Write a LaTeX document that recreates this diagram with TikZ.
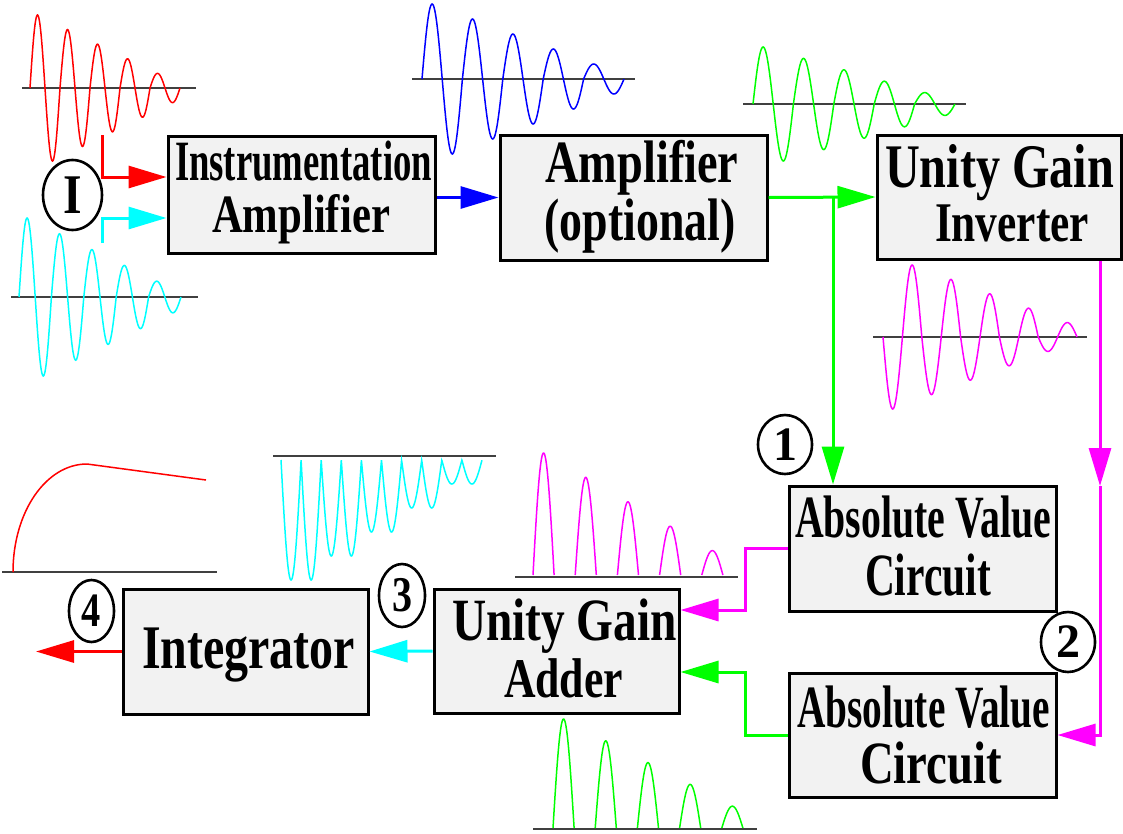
\documentclass[tikz,border=0pt]{standalone}
\usepackage{fontspec}
\setmainfont{Liberation Serif}
\usepackage{graphicx}
\usetikzlibrary{arrows.meta,shapes.geometric}
\definecolor{boxgray}{HTML}{F2F2F2}
\definecolor{axisgray}{HTML}{404040}
\definecolor{cred}{rgb}{1,0,0}
\definecolor{ccyan}{rgb}{0,1,1}
\definecolor{cblue}{rgb}{0,0,1}
\definecolor{cgreen}{rgb}{0,1,0}
\definecolor{cmag}{rgb}{1,0,1}
\newsavebox\lblbox
\newcommand\fitw[2]{\sbox\lblbox{#2}\pgfmathsetmacro\lblsx{#1/\the\wd\lblbox}\scalebox{\lblsx}[1]{\usebox\lblbox}}
\newcommand\fsz[1]{\fontsize{#1}{#1}\selectfont}
\begin{document}
\begin{tikzpicture}[x=1pt,y=-1pt,
  blk/.style={draw=black, line width=3pt, fill=boxgray, inner sep=0pt},
  lbl/.style={anchor=base, inner sep=0pt, font=\bfseries},
  circ/.style={draw=black, ellipse, line width=2.6pt, inner sep=0pt, font=\bfseries},
  conn/.style={line width=3pt, -{Triangle[length=38pt,width=22pt]}},
  wave/.style={line width=1.5pt},
  axisline/.style={draw=axisgray, line width=1.5pt}]
\useasboundingbox (0,0) rectangle (1123,833);

% ---------- waveforms ----------
% red input
\draw[axisline] (22,88) -- (196,88);
\draw[wave,cred] plot[domain=0:5,samples=301] ({30+30*\x},{88-73*(5-floor(\x))/5*sin(360*\x)});
% cyan input
\draw[axisline] (11,297) -- (198,297);
\draw[wave,ccyan] plot[domain=0:5,samples=301] ({19+32.4*\x},{297-79*(5-floor(\x))/5*sin(360*\x)});
% blue
\draw[axisline] (412,79) -- (635,79);
\draw[wave,cblue] plot[domain=0:5,samples=301] ({422+40.4*\x},{79-75*(5-floor(\x))/5*sin(360*\x)});
% green
\draw[axisline] (743,104) -- (966,104);
\draw[wave,cgreen] plot[domain=0:5,samples=301] ({753+40.4*\x},{104-57*(5-floor(\x))/5*sin(360*\x)});
% magenta (inverted)
\draw[axisline] (873,337) -- (1087,337);
\draw[wave,cmag] plot[domain=0:5,samples=301] ({883+38.8*\x},{337+72*(5-floor(\x))/5*sin(360*\x)});
% cyan rectified sum
\draw[axisline] (273,456) -- (496,456);
\draw[wave,ccyan] plot[domain=0:5,samples=601] ({281+40.2*\x},{460+120*(5-floor(\x))/5*abs(sin(360*\x))});
% magenta half-wave
\draw[axisline] (515,577) -- (738,577);
\foreach \k in {0,...,4}
  \draw[wave,cmag] plot[domain=0:180,samples=40] ({533+42.2*\k+21.1*\x/180},{575-122*(5-\k)/5*sin(\x)});
% green half-wave
\draw[axisline] (533,829) -- (757,829);
\foreach \k in {0,...,4}
  \draw[wave,cgreen] plot[domain=0:180,samples=40] ({553+42.2*\k+21.1*\x/180},{828-109*(5-\k)/5*sin(\x)});
% red integrator output
\draw[axisline] (2,572) -- (217,572);
\draw[wave,cred] (13,572) .. controls (13,512) and (46,464) .. (87,464) -- (206,480);

% ---------- boxes ----------
\node[blk, minimum width=267pt, minimum height=117pt] (ia)   at (301.5,194.5) {};
\node[blk, minimum width=267pt, minimum height=125pt] (amp)  at (633.5,197.5) {};
\node[blk, minimum width=244pt, minimum height=124pt] (ugi)  at (999,197) {};
\node[blk, minimum width=267pt, minimum height=125pt] (avc1) at (922.5,548.5) {};
\node[blk, minimum width=267pt, minimum height=124pt] (avc2) at (922.5,735) {};
\node[blk, minimum width=245pt, minimum height=124pt] (uga)  at (556.5,651) {};
\node[blk, minimum width=245pt, minimum height=125pt] (int)  at (245.5,651.5) {};

% ---------- box texts ----------
\node[lbl] (ia1) at (303.5,180) {\fsz{57}\fitw{257}{Instrumentation}};
\node[lbl] (ia2) at (301,232) {\fsz{54}\fitw{178}{Amplifier}};
\node[lbl] (am1) at (642,182) {\fsz{60}\fitw{193}{Amplifier}};
\node[lbl] (am2) at (640,240) {\fsz{60}\fitw{191}{(optional)}};
\node[lbl] (ug1) at (999.5,187) {\fsz{62}\fitw{229}{Unity Gain}};
\node[lbl] (ug2) at (1012,241) {\fsz{56}\fitw{154}{Inverter}};
\node[lbl] (av1) at (923,537) {\fsz{60}\fitw{256}{Absolute Value}};
\node[lbl] (av2) at (928,595) {\fsz{60}\fitw{126}{Circuit}};
\node[lbl] (aw1) at (923.5,727) {\fsz{60}\fitw{253}{Absolute Value}};
\node[lbl] (aw2) at (931,783) {\fsz{60}\fitw{142}{Circuit}};
\node[lbl] (ua1) at (564.5,640) {\fsz{60}\fitw{225}{Unity Gain}};
\node[lbl] (ua2) at (563.5,697) {\fsz{56}\fitw{119}{Adder}};
\node[lbl] (in1) at (248.5,668) {\fsz{62}\fitw{213}{Integrator}};

% ---------- circled labels ----------
\node[circ, minimum width=59pt, minimum height=70pt] (cI) at (72.5,195) {\fsz{56}\scalebox{0.85}[1]{I}};
\node[circ, minimum width=54pt, minimum height=59pt] (c1) at (785,444.5) {\fsz{48}1};
\node[circ, minimum width=54pt, minimum height=60pt] (c2) at (1068,642) {\fsz{48}2};
\node[circ, minimum width=46pt, minimum height=63pt] (c3) at (402,595.5) {\fsz{50}\scalebox{0.8}[1]{3}};
\node[circ, minimum width=45pt, minimum height=62pt] (c4) at (91.5,611) {\fsz{48}\scalebox{0.8}[1]{4}};

% ---------- connectors ----------
\coordinate (rtop) at (102,135);
\coordinate (rj) at (102,177);
\coordinate (cbot) at (102,243);
\coordinate (cj) at (102,218);
\draw[conn,cred]  (rtop) -- (rj) -- (rj -| ia.west);
\draw[conn,ccyan] (cbot) -- (cj) -- (cj -| ia.west);
\draw[conn,cblue] (amp.west -| ia.east) -- (amp.west);
\draw[conn,cgreen] (amp.east) -- (ugi.west);
\coordinate (gj) at (833,197.5);
\draw[conn,cgreen] (gj) -- (gj |- avc1.north);
\coordinate (mmid) at (1100,486);
\draw[conn,cmag] (ugi.south -| mmid) -- (mmid);
\draw[conn,cmag] (mmid) |- (avc2.east);
\coordinate (k1) at (745,610);
\draw[conn,cmag] (avc1.west) -| (k1) -- (k1 -| uga.east);
\coordinate (k2) at (745,672);
\draw[conn,cgreen] (avc2.west) -| (k2) -- (k2 -| uga.east);
\draw[conn,ccyan] (uga.west) -- (int.east);
\coordinate (outp) at (36,651.5);
\draw[conn,cred] (int.west) -- (outp);
\end{tikzpicture}
\end{document}
